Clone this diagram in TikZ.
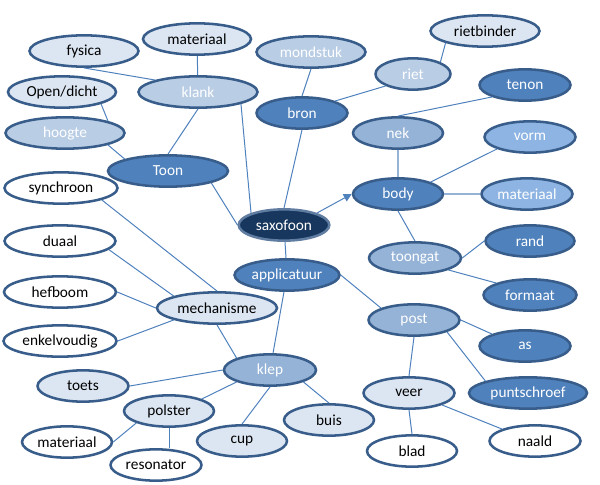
\documentclass[tikz,border=0pt]{standalone}
\usepackage{fontspec}
\setmainfont{Carlito}
\usetikzlibrary{positioning,arrows.meta,shapes}

\definecolor{rim}{HTML}{385D8A}
\definecolor{wire}{HTML}{4F81BD}
\definecolor{navy}{HTML}{17375E}
\definecolor{dk}{HTML}{4F81BD}
\definecolor{md}{HTML}{95B3D7}
\definecolor{mv}{HTML}{8DB4E2}
\definecolor{lt}{HTML}{B9CDE5}
\definecolor{xl}{HTML}{DCE6F2}

\begin{document}
\begin{tikzpicture}[
  x=0.75pt, y=-0.75pt,
  font=\fontsize{11.5}{13}\selectfont,
  bub/.style={ellipse, draw=rim, line width=1.9pt, inner sep=0pt,
              minimum height=23.5pt, minimum width=68pt, text=white},
  wd/.style={minimum width=#1*0.75pt},
  top/.style={bub, fill=navy, draw=rim!80},
  lvA/.style={bub, fill=dk},
  lvB/.style={bub, fill=md},
  lvV/.style={bub, fill=mv},
  lvC/.style={bub, fill=lt},
  lvD/.style={bub, fill=xl, text=black},
  lvE/.style={bub, fill=white, text=black},
  link/.style={draw=wire, line width=0.75pt},
  fat/.style={draw=md, line width=1.3pt},
  arr/.style={link, -{Triangle[length=6pt,width=6pt]}}
]
\useasboundingbox (0,0) rectangle (600,485);

% centre
\node[top] (sax) at (284,225) {saxofoon};

% upper left
\node[lvD, wd=108] (matT)  at (197,39)  {materiaal};
\node[lvD, wd=109] (fys)   at (84,51)   {fysica};
\node[lvC, wd=119] (klank) at (198,92)  {klank};
\node[lvD, wd=108] (open)  at (62,92)   {Open/dicht};
\node[lvC, wd=119] (hoog)  at (65,133)  {hoogte};
\node[lvA, wd=120] (toon)  at (168,171) {Toon};

% upper right
\node[lvC, wd=109] (mond)  at (311,52)  {mondstuk};
\node[lvA, wd=91]  (bron)  at (302,113) {bron};
\node[lvC, wd=75]  (riet)  at (413,74)  {riet};
\node[lvD, wd=109] (rbind) at (485,31)  {rietbinder};
\node[lvA, wd=91]  (tenon) at (525,85)  {tenon};
\node[lvB, wd=90]  (nek)   at (398,133) {nek};
\node[lvV, wd=91]  (vorm)  at (530,137) {vorm};
\node[lvA, wd=90]  (body)  at (398,194) {body};
\node[lvV, wd=91]  (matR)  at (527,194) {materiaal};
\node[lvB, wd=92]  (tgat)  at (415,258) {toongat};
\node[lvA, wd=89]  (rand)  at (530,241) {rand};
\node[lvA, wd=93]  (form)  at (530,295) {formaat};

% lower right
\node[lvA, wd=105] (appl)  at (287,275) {applicatuur};
\node[lvB, wd=91]  (post)  at (414,320) {post};
\node[lvA, wd=91]  (as)    at (525,346) {as};
\node[lvA, wd=118] (punt)  at (528,393) {puntschroef};
\node[lvD, wd=91]  (veer)  at (409,393) {veer};
\node[lvE, wd=90]  (blad)  at (412,451) {blad};
\node[lvE, wd=91]  (naald) at (535,441) {naald};

% lower left
\node[lvE, wd=113] (sync)  at (61,188)  {synchroon};
\node[lvE, wd=111] (duaal) at (60,241)  {duaal};
\node[lvE, wd=112] (hef)   at (60,292)  {hefboom};
\node[lvE, wd=113] (enkel) at (60,341)  {enkelvoudig};
\node[lvD, wd=120] (mech)  at (217,308) {mechanisme};
\node[lvB, wd=92]  (klep)  at (270,370) {klep};
\node[lvD, wd=91]  (toets) at (83,386)  {toets};
\node[lvD, wd=90]  (pol)   at (169,411) {polster};
\node[lvE, wd=90]  (matB)  at (67,442)  {materiaal};
\node[lvE, wd=91]  (reso)  at (156,465) {resonator};
\node[lvD, wd=90]  (cup)   at (242,441) {cup};
\node[lvD, wd=90]  (buis)  at (329,420) {buis};

% connectors
\begin{scope}[on background layer/.try]
\draw[link] (fys.south) -- (klank.north west);
\draw[link] (matT) -- (klank);
\draw[link] (open.south east) -- (hoog.north east);
\draw[link] (hoog.south east) -- (toon.north west);
\draw[link] (klank.south) -- (toon.north);
\draw[link] (klank.south east) -- (sax.north west);
\draw[link] (toon.south east) -- (sax.west);
\draw[link] (mond.south) -- (bron.north);
\draw[link] (bron.south) -- (sax.north);
\draw[link] (bron.north east) -- (riet.south west);
\draw[link] (riet.north east) -- (rbind.south west);
\draw[link] (nek.north) -- (tenon.south west);
\draw[fat]  (nek) -- (body);
\draw[link] (body.north east) -- (vorm.south west);
\draw[fat]  (body) -- (matR);
\draw[arr]  (sax.north east) -- (body.west);
\draw[link] (body.south) -- (tgat.north);
\draw[link] (tgat.east) -- (rand.west);
\draw[link] (tgat.south east) -- (form.north west);
\draw[link] (sax) -- (appl);
\draw[link] (appl.east) -- (post.north west);
\draw[link] (post.east) -- (as.north west);
\draw[link] (post.south east) -- (punt.north west);
\draw[link] (post.south) -- (veer.north);
\draw[link] (veer.south) -- (blad.north);
\draw[link] (veer.south east) -- (naald.north west);
\draw[link] (appl) -- (klep);
\draw[link] (sync.south east) -- (mech.north);
\draw[link] (duaal.-10) -- (mech.north west);
\draw[link] (hef.east) -- (mech.west);
\draw[link] (enkel.east) -- (mech.south west);
\draw[link] (mech.south) -- (klep.north west);
\draw[link] (toets.east) -- (klep.west);
\draw[link] (pol.north east) -- (klep.south west);
\draw[link] (cup.north) -- (klep.south);
\draw[link] (klep.south east) -- (buis.north);
\draw[link] (pol.south west) -- (matB.east);
\draw[link] (pol.south) -- (pol.south |- reso.north);
\end{scope}
\end{tikzpicture}
\end{document}
